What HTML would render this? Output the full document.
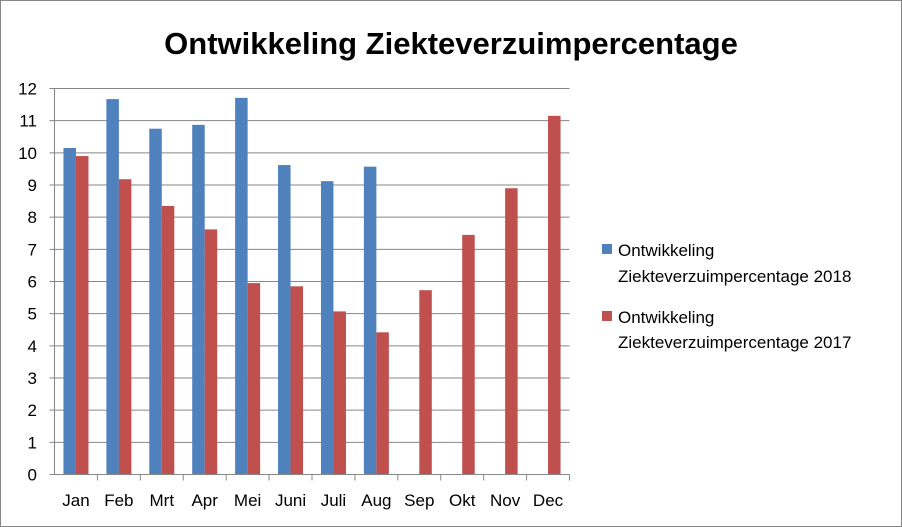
<!DOCTYPE html>
<html><head><meta charset="utf-8"><style>
body{margin:0;background:#fff;font-family:"Liberation Sans",Arial,sans-serif}
#c{position:relative;width:900px;height:525px;border:1px solid #868686;overflow:hidden}
</style></head><body>
<div id="c">
<svg id="s" width="900" height="525" xmlns="http://www.w3.org/2000/svg">
<text x="450" y="53" text-anchor="middle" font-size="31" font-weight="bold" font-family="Liberation Sans, sans-serif">Ontwikkeling Ziekteverzuimpercentage</text>
<g id="grid"></g><g id="bars"></g><g id="axes"></g>
<g font-size="17" font-family="Liberation Sans, sans-serif" fill="#000">
<rect x="601" y="243" width="10" height="10" fill="#4f81bd"/>
<text x="617" y="255">Ontwikkeling</text>
<text x="617" y="281">Ziekteverzuimpercentage 2018</text>
<rect x="601" y="310" width="10" height="10" fill="#c0504d"/>
<text x="617" y="322">Ontwikkeling</text>
<text x="617" y="347">Ziekteverzuimpercentage 2017</text>
</g>
</svg>
</div>
<script>
const categories=["Jan","Feb","Mrt","Apr","Mei","Juni","Juli","Aug","Sep","Okt","Nov","Dec"];
const series2018=[10.15,11.67,10.75,10.87,11.71,9.62,9.12,9.57,null,null,null,null];
const series2017=[9.9,9.18,8.35,7.62,5.95,5.85,5.07,4.42,5.73,7.45,8.9,11.15];
const yTicks=[0,1,2,3,4,5,6,7,8,9,10,11,12];
const NS="http://www.w3.org/2000/svg";
const X0=53.5,X1=568.5,Y0=473.5,Y1=87.5,YMAX=12;
const bw=(X1-X0)/categories.length;
const y=v=>Y0-(v/YMAX)*(Y0-Y1);
const xc=i=>X0+bw*i+bw/2;
function mk(t,a,p){const e=document.createElementNS(NS,t);for(const k in a)e.setAttribute(k,a[k]);p.appendChild(e);return e;}
const grid=document.getElementById('grid'),bars=document.getElementById('bars'),axes=document.getElementById('axes');
yTicks.forEach(t=>{
  const l=mk('line',{x1:X0-5,x2:X1,y1:y(t),y2:y(t),stroke:'#868686','stroke-width':1},grid);
  
  
  const tx=mk('text',{x:36,y:y(t)+6,'text-anchor':'end','font-size':17,'font-family':'Liberation Sans, sans-serif'},axes);
  tx.textContent=t;
  
  
});
const barW=12.5;
categories.forEach((c,i)=>{
  if(series2018[i]!=null){
    const r=mk('rect',{x:xc(i)-barW,y:y(series2018[i]),width:barW,height:Y0-y(series2018[i]),fill:'#4f81bd'},bars);
    
    
  }
  if(series2017[i]!=null){
    const r=mk('rect',{x:xc(i),y:y(series2017[i]),width:barW,height:Y0-y(series2017[i]),fill:'#c0504d'},bars);
    
    
  }
  const tk=mk('line',{x1:X0+bw*(i+1),x2:X0+bw*(i+1),y1:Y0,y2:Y0+6,stroke:'#868686'},axes);
  
  
  const tx=mk('text',{x:xc(i),y:505,'text-anchor':'middle','font-size':17,'font-family':'Liberation Sans, sans-serif'},axes);
  tx.textContent=c;
  
  
});
const ya=mk('line',{x1:X0,x2:X0,y1:Y1,y2:Y0,stroke:'#868686'},axes);


const xa=mk('line',{x1:X0-5,x2:X1,y1:Y0,y2:Y0,stroke:'#868686'},axes);


</script>
</body></html>
